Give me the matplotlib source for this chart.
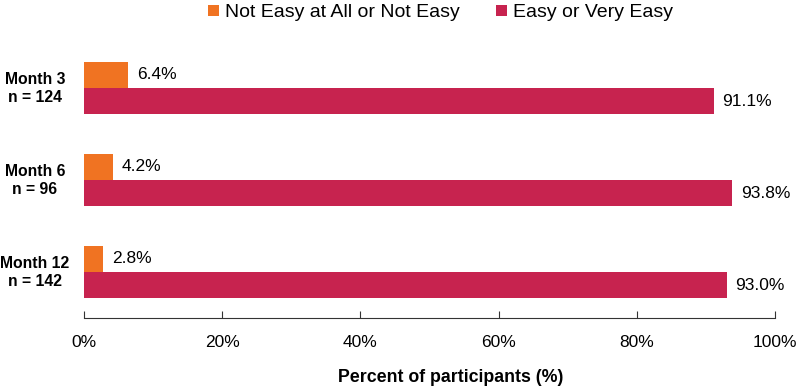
import matplotlib.pyplot as plt
import matplotlib.transforms as mtransforms
import numpy as np

plt.rcParams['font.family'] = ['Liberation Sans', 'DejaVu Sans']

groups = ['Month 3\nn = 124', 'Month 6\nn = 96', 'Month 12\nn = 142']
not_easy = [6.4, 4.2, 2.8]
easy = [91.1, 93.8, 93.0]
series_names = ['Not Easy at All or Not Easy', 'Easy or Very Easy']
colors = ['#F07322', '#C7234F']

fig = plt.figure(figsize=(7.97, 3.90), dpi=100)
ax = fig.add_axes([0.1054, 0.1846, 0.867, 0.7077])

y = np.arange(len(groups))
h = 0.283
b1 = ax.barh(y - h / 2, not_easy, height=h, color=colors[0], label=series_names[0])
b2 = ax.barh(y + h / 2, easy, height=h, color=colors[1], label=series_names[1])

for bars, vals in [(b1, not_easy), (b2, easy)]:
    for bar, v in zip(bars, vals):
        ax.text(bar.get_width() + 1.3, bar.get_y() + bar.get_height() / 2, f'{v:.1f}%',
                va='center', ha='left', fontsize=12.5)

ax.set_xlim(0, 100)
ax.set_ylim(2.5, -0.5)
ax.set_xticks(np.arange(0, 101, 20))
ax.set_xticklabels([f'{t}%' for t in range(0, 101, 20)], fontsize=12.5)

# group labels centred on a common x, lines centred
ax.set_yticks([])
trans = mtransforms.blended_transform_factory(ax.transAxes, ax.transData)
for yi, g in zip(y, groups):
    ax.text(-0.0709, yi, g, transform=trans, ha='center', va='center', multialignment='center',
            fontsize=11.3, fontweight='bold', linespacing=1.25)

ax.tick_params(axis='x', direction='in', length=5, pad=12, color='#333333')
for s in ['top', 'right', 'left']:
    ax.spines[s].set_visible(False)
ax.spines['bottom'].set_color('#333333')
ax.set_xlabel('Percent of participants (%)', fontsize=12.8, fontweight='bold', va='center')
ax.xaxis.set_label_coords(0.53, -0.217)

ax.legend(loc='upper center', bbox_to_anchor=(0.516, 1.2), ncol=2, frameon=False,
          fontsize=14, handlelength=0.55, handleheight=0.55, handletextpad=0.3, columnspacing=1.9)

fig.savefig('out.png', dpi=100)
